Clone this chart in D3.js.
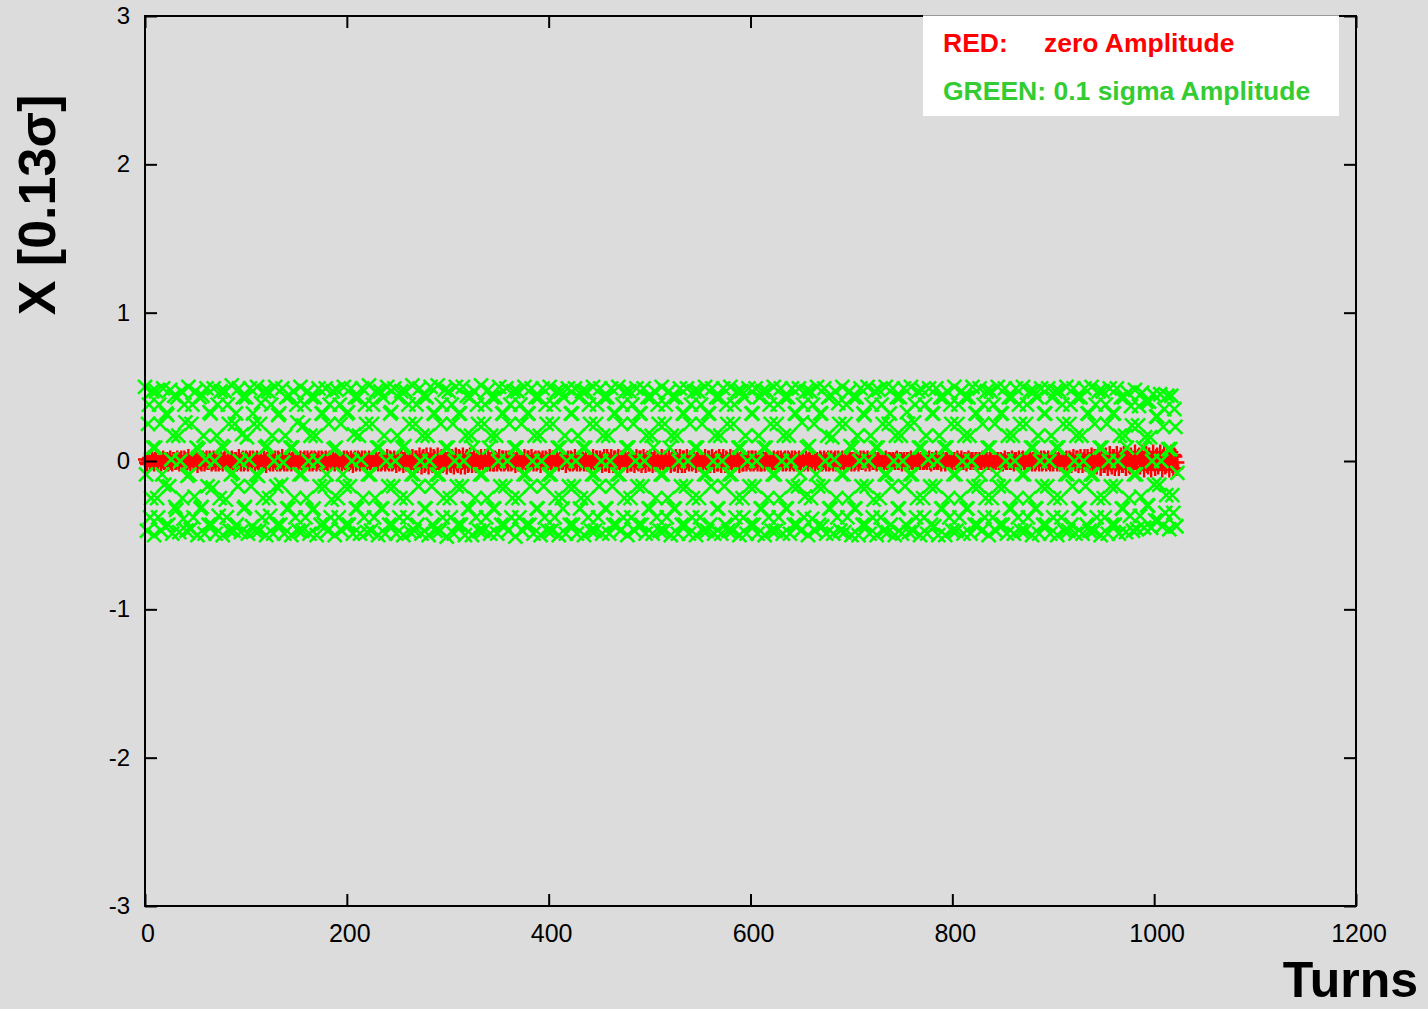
<!DOCTYPE html>
<html><head><meta charset="utf-8">
<script src="https://cdn.jsdelivr.net/npm/d3@7"></script>
<style>html,body{margin:0;padding:0;background:#dcdcdc;}svg{display:block;}</style>
</head><body>
<svg id="c" width="1428" height="1009"></svg>
<script>
const xTicks=[0,200,400,600,800,1000,1200];
const yTicks=[-3,-2,-1,0,1,2,3];
const xTitle="Turns";
const yTitle="X [0.13σ]";
const legendRed=["RED:","zero Amplitude"];
const legendGreen=["GREEN: 0.1 sigma Amplitude"];
// green: 0.1 sigma amplitude, one value per turn (turn = index)
const greenX=[
.5,-.09,-.47,.25,.38,-.38,-.25,.47,.09,-.5,.09,.47,-.25,-.38,.38,.25,-.47,-.09,
.49,-.16,-.44,.32,.31,-.43,-.17,.48,.01,-.49,.17,.44,-.31,-.33,.43,.17,-.48,0,
.47,-.25,-.39,.38,.26,-.47,-.1,.5,-.09,-.46,.25,.38,-.38,-.24,.47,.09,-.5,.08,
.43,-.32,-.31,.44,.17,-.49,.01,.49,-.17,-.43,.33,.32,-.43,-.18,.49,0,-.49,.17,
.38,-.37,-.25,.47,.1,-.5,.09,.47,-.26,-.38,.38,.25,-.47,-.09,.51,-.08,-.47,.25,
.32,-.43,-.17,.49,0,-.48,.18,.43,-.32,-.31,.43,.16,-.49,.01,.49,-.17,-.44,.32,
.25,-.47,-.09,.5,-.1,-.47,.25,.39,-.38,-.25,.47,.09,-.5,.1,.47,-.25,-.37,.38,
.17,-.49,0,.5,-.17,-.43,.31,.32,-.43,-.16,.49,-.01,-.49,.17,.43,-.32,-.32,.44,
.09,-.5,.09,.47,-.25,-.38,.38,.26,-.47,-.09,.5,-.09,-.47,.24,.38,-.38,-.25,.47,
0,-.49,.17,.43,-.33,-.32,.43,.17,-.5,0,.49,-.17,-.43,.32,.32,-.42,-.17,.49,
-.09,-.47,.25,.38,-.38,-.26,.47,.08,-.5,.09,.48,-.25,-.38,.38,.25,-.47,-.09,.5,
-.17,-.43,.32,.33,-.43,-.17,.49,0,-.49,.18,.43,-.32,-.32,.43,.17,-.49,.01,.49,
-.25,-.38,.38,.25,-.48,-.09,.51,-.09,-.47,.25,.38,-.38,-.25,.47,.09,-.5,.09,.47,
-.32,-.32,.43,.17,-.49,0,.5,-.17,-.43,.32,.33,-.43,-.17,.49,0,-.49,.17,.43,
-.38,-.25,.47,.09,-.5,.1,.47,-.25,-.38,.38,.25,-.48,-.09,.51,-.09,-.47,.25,.38,
-.43,-.17,.49,0,-.49,.17,.44,-.32,-.32,.43,.17,-.5,0,.5,-.17,-.43,.32,.32,
-.47,-.09,.51,-.09,-.47,.25,.38,-.38,-.25,.48,.09,-.51,.09,.47,-.25,-.38,.38,.25,
-.49,0,.5,-.17,-.43,.32,.32,-.43,-.17,.5,0,-.5,.17,.44,-.32,-.32,.43,.17,
-.5,.09,.47,-.25,-.38,.38,.25,-.47,-.09,.51,-.09,-.47,.25,.38,-.38,-.25,.48,.09,
-.49,.17,.43,-.32,-.32,.43,.17,-.49,0,.5,-.17,-.43,.32,.32,-.43,-.17,.49,0,
-.47,.25,.38,-.38,-.25,.47,.09,-.51,.09,.47,-.25,-.38,.38,.25,-.47,-.09,.5,-.09,
-.43,.32,.32,-.43,-.17,.49,0,-.49,.17,.43,-.32,-.32,.43,.17,-.5,0,.49,-.17,
-.38,.38,.25,-.47,-.09,.5,-.09,-.47,.25,.38,-.38,-.25,.47,.09,-.5,.09,.47,-.25,
-.32,.43,.17,-.49,0,.49,-.17,-.43,.32,.32,-.43,-.17,.49,0,-.49,.17,.43,-.32,
-.25,.47,.09,-.5,.09,.47,-.25,-.38,.38,.25,-.47,-.09,.5,-.09,-.47,.25,.38,-.38,
-.17,.49,0,-.49,.17,.43,-.32,-.32,.43,.17,-.49,0,.49,-.17,-.43,.32,.32,-.43,
-.09,.5,-.09,-.47,.25,.38,-.38,-.25,.47,.09,-.5,.09,.47,-.25,-.38,.38,.25,-.47,
0,.49,-.17,-.43,.32,.32,-.43,-.17,.49,0,-.49,.17,.43,-.32,-.32,.43,.17,-.49,
.09,.47,-.25,-.38,.38,.25,-.47,-.09,.5,-.09,-.47,.25,.38,-.38,-.25,.47,.09,-.5,
.17,.43,-.32,-.32,.43,.17,-.49,0,.49,-.17,-.43,.32,.32,-.43,-.17,.49,0,-.49,
.25,.38,-.38,-.25,.47,.09,-.5,.09,.47,-.25,-.38,.38,.25,-.47,-.09,.5,-.09,-.47,
.32,.32,-.43,-.17,.49,0,-.49,.17,.43,-.32,-.32,.43,.17,-.49,0,.49,-.17,-.43,
.38,.25,-.47,-.09,.5,-.09,-.47,.25,.38,-.38,-.25,.47,.09,-.5,.09,.47,-.25,-.38,
.43,.17,-.49,0,.49,-.17,-.43,.32,.32,-.43,-.17,.49,0,-.49,.17,.43,-.32,-.32,
.47,.09,-.5,.09,.47,-.25,-.38,.38,.25,-.47,-.09,.5,-.09,-.47,.25,.38,-.38,-.25,
.49,0,-.49,.17,.43,-.32,-.32,.43,.17,-.49,0,.49,-.17,-.43,.32,.32,-.43,-.17,
.49,-.08,-.47,.26,.38,-.38,-.24,.47,.09,-.5,.1,.47,-.25,-.39,.38,.25,-.47,-.09,
.5,-.17,-.43,.32,.32,-.44,-.17,.49,0,-.49,.17,.43,-.32,-.32,.44,.16,-.49,.01,
.47,-.25,-.38,.39,.25,-.47,-.09,.5,-.09,-.48,.25,.38,-.38,-.25,.47,.1,-.5,.09,
.43,-.32,-.32,.43,.17,-.5,0,.49,-.17,-.43,.32,.31,-.43,-.17,.5,0,-.49,.17,
.38,-.38,-.26,.47,.09,-.5,.09,.48,-.25,-.38,.38,.25,-.47,-.09,.5,-.09,-.48,.25,
.32,-.43,-.17,.49,0,-.5,.17,.43,-.32,-.32,.43,.17,-.49,0,.49,-.17,-.43,.33,
.25,-.48,-.09,.5,-.09,-.47,.26,.38,-.38,-.25,.47,.09,-.5,.09,.48,-.25,-.38,.38,
.17,-.49,.01,.49,-.17,-.43,.32,.32,-.44,-.17,.49,0,-.5,.17,.43,-.32,-.32,.43,
.09,-.5,.09,.47,-.25,-.38,.38,.25,-.47,-.09,.5,-.09,-.47,.25,.38,-.38,-.25,.47,
0,-.49,.17,.43,-.32,-.32,.43,.17,-.49,0,.5,-.17,-.43,.32,.32,-.43,-.17,.49,
-.09,-.47,.25,.38,-.38,-.25,.47,.09,-.5,.09,.47,-.25,-.38,.38,.25,-.47,-.09,.5,
-.17,-.43,.32,.32,-.43,-.17,.49,0,-.49,.17,.43,-.32,-.32,.43,.17,-.49,0,.49,
-.25,-.38,.38,.25,-.47,-.09,.5,-.09,-.47,.25,.38,-.38,-.25,.47,.09,-.5,.09,.47,
-.32,-.32,.43,.17,-.49,0,.49,-.17,-.43,.32,.32,-.43,-.17,.49,0,-.49,.17,.43,
-.38,-.25,.47,.09,-.5,.09,.47,-.25,-.38,.38,.25,-.47,-.09,.5,-.09,-.47,.25,.38,
-.43,-.17,.49,0,-.49,.17,.43,-.32,-.32,.43,.17,-.49,0,.49,-.17,-.43,.32,.32,
-.47,-.09,.5,-.09,-.47,.25,.38,-.38,-.25,.47,.09,-.5,.09,.47,-.25,-.38,.38,.25,
-.49,0,.49,-.17,-.43,.32,.32,-.43,-.17,.49,0,-.49,.17,.43,-.32,-.32,.43,.17,
-.48,.09,.46,-.25,-.37,.37,.24,-.47,-.09,.48,-.09,-.46,.24,.37,-.37,-.24,.46,.09,
-.45,.16,.4,-.3,-.3,.4,.16,-.45,0,.45,-.16,-.4,.3,.3,-.4,-.16,.45,0,
-.44,.23,.35,-.35,-.23,.44,.08,-.46,.08,.44,-.23,-.35,.35,.23,-.44,-.08
];
// red: zero amplitude, one value per turn (turn = index)
const redX=[
.01,-.01,-.02,.01,.02,-.01,-.01,.02,0,-.02,.01,.02,-.01,-.02,.01,.01,-.02,0,
.02,-.01,-.01,.01,.01,-.02,0,.02,-.01,-.02,.01,.01,-.01,-.01,.02,0,-.02,.01,
.02,-.02,-.01,.02,.01,-.02,-.01,.03,0,-.02,.01,.02,-.02,-.01,.02,.01,-.03,0,
.01,-.01,-.02,.02,.01,-.02,0,.02,-.01,-.01,.02,.01,-.02,-.01,.02,0,-.02,.01,
.02,-.02,-.01,.02,0,-.02,.01,.02,-.01,-.02,.02,.01,-.02,0,.02,-.01,-.02,.01,
.01,-.02,-.01,.03,0,-.02,.01,.02,-.02,-.01,.02,.01,-.02,0,.02,-.01,-.02,.02,
.01,-.02,0,.02,-.01,-.02,.01,.02,-.02,-.01,.02,0,-.03,.01,.02,-.01,-.02,.02,
.01,-.02,0,.02,-.01,-.02,.02,.01,-.02,-.01,.03,0,-.02,.01,.02,-.02,-.01,.02,
0,-.02,.01,.02,-.01,-.02,.02,.01,-.02,0,.02,-.01,-.02,.01,.02,-.02,-.01,.02,
0,-.02,.01,.02,-.02,-.01,.02,.01,-.02,0,.02,-.01,-.02,.02,.01,-.02,-.01,.02,
-.01,-.02,.01,.02,-.02,-.01,.03,0,-.02,.01,.02,-.01,-.02,.02,.01,-.02,0,.02,
-.01,-.02,.02,.01,-.02,-.01,.02,0,-.03,.01,.02,-.02,-.01,.02,.01,-.02,0,.02,
-.01,-.02,.02,.01,-.02,0,.02,-.01,-.02,.01,.02,-.02,-.01,.03,0,-.02,.01,.02,
-.02,-.01,.02,.01,-.02,0,.03,-.01,-.02,.02,.01,-.02,-.01,.02,0,-.03,.01,.02,
-.02,-.01,.03,.01,-.03,.01,.02,-.02,-.02,.02,.01,-.03,-.01,.03,-.01,-.02,.02,.02,
-.03,-.01,.04,0,-.04,.02,.03,-.03,-.02,.04,.01,-.04,0,.04,-.02,-.03,.03,.02,
-.04,-.01,.04,-.01,-.04,.02,.03,-.03,-.02,.04,.01,-.04,.01,.03,-.02,-.03,.03,.02,
-.04,0,.04,-.02,-.03,.03,.02,-.04,-.01,.04,0,-.04,.02,.03,-.03,-.02,.04,.01,
-.03,.01,.03,-.02,-.03,.02,.02,-.03,-.01,.03,0,-.03,.01,.03,-.02,-.02,.03,.01,
-.02,.01,.02,-.02,-.02,.02,.01,-.02,0,.03,-.01,-.02,.02,.02,-.02,-.01,.02,0,
-.02,.02,.02,-.02,-.01,.02,0,-.03,.01,.02,-.02,-.02,.02,.01,-.02,0,.03,-.01,
-.02,.02,.02,-.02,-.01,.03,0,-.02,.01,.02,-.02,-.01,.02,.01,-.03,0,.02,-.01,
-.02,.02,.01,-.02,0,.03,-.01,-.02,.02,.02,-.02,-.01,.02,0,-.02,.01,.02,-.01,
-.01,.02,.01,-.03,0,.02,-.01,-.02,.02,.01,-.02,-.01,.03,0,-.02,.01,.02,-.02,
-.01,.03,.01,-.02,0,.02,-.02,-.02,.02,.01,-.03,0,.03,-.01,-.02,.02,.02,-.02,
-.01,.02,0,-.03,.01,.03,-.02,-.02,.03,.01,-.03,0,.03,-.01,-.03,.02,.02,-.03,
0,.03,-.01,-.03,.02,.02,-.02,-.01,.03,0,-.03,.01,.03,-.02,-.02,.02,.01,-.03,
0,.03,-.01,-.02,.02,.02,-.03,-.01,.03,0,-.03,.01,.02,-.02,-.02,.03,.01,-.03,
.01,.03,-.02,-.02,.02,.01,-.03,0,.03,-.01,-.02,.02,.02,-.02,-.01,.03,0,-.03,
.01,.02,-.02,-.02,.03,.01,-.03,0,.03,-.01,-.03,.02,.02,-.03,-.01,.03,0,-.02,
.02,.02,-.02,-.01,.03,0,-.03,.01,.03,-.02,-.02,.02,.01,-.03,0,.03,-.01,-.02,
.02,.02,-.03,-.01,.03,0,-.03,.01,.02,-.02,-.02,.03,.01,-.03,0,.03,-.01,-.03,
.02,.01,-.03,0,.03,-.01,-.03,.02,.02,-.02,-.01,.03,0,-.03,.01,.03,-.02,-.02,
.02,.01,-.02,0,.02,-.01,-.02,.02,.02,-.02,-.01,.02,0,-.02,.01,.02,-.02,-.02,
.02,.01,-.02,.01,.02,-.01,-.02,.02,.01,-.02,-.01,.02,-.01,-.02,.01,.02,-.02,-.01,
.02,0,-.02,.01,.02,-.02,-.01,.02,.01,-.02,0,.02,-.01,-.02,.02,.01,-.02,-.01,
.02,-.01,-.02,.01,.02,-.02,-.01,.02,0,-.02,.01,.02,-.01,-.02,.02,.01,-.02,0,
.01,-.01,-.02,.02,.01,-.02,-.01,.02,0,-.02,.01,.02,-.02,-.01,.02,0,-.02,.01,
.02,-.02,-.01,.02,.01,-.02,0,.02,-.01,-.02,.02,.01,-.02,-.01,.02,.01,-.02,.01,
.01,-.02,-.01,.02,.01,-.02,0,.02,-.01,-.01,.02,.01,-.02,0,.02,0,-.02,.01,
.01,-.01,-.01,.02,0,-.02,.01,.01,-.01,-.01,.02,.01,-.02,0,.02,-.01,-.01,.01,
.01,-.02,0,.01,0,-.01,.01,.02,-.01,-.01,.01,.01,-.02,0,.01,-.01,-.02,.01,
.01,-.01,0,.02,-.01,-.01,.01,.01,-.02,0,.02,0,-.01,.01,.01,-.01,-.01,.02,
0,-.01,.01,.02,-.01,-.02,.01,.01,-.01,0,.02,-.01,-.01,.01,.01,-.02,0,.01,
0,-.02,.01,.01,-.01,-.01,.02,0,-.02,.01,.01,-.01,-.01,.02,0,-.01,0,.02,
-.01,-.01,.01,.01,-.02,0,.02,0,-.01,.01,.01,-.01,-.01,.01,.01,-.02,0,.01,
-.01,-.01,.02,.01,-.01,0,.01,-.01,-.01,.01,.02,-.02,-.01,.02,0,-.01,.01,.01,
-.01,-.01,.01,0,-.02,0,.02,-.01,-.01,.01,.01,-.01,-.01,.02,0,-.02,.01,.01,
-.01,-.01,.02,0,-.02,.01,.02,-.01,-.02,.01,.01,-.02,0,.02,0,-.02,.01,.01,
-.02,-.01,.02,.01,-.02,.01,.02,-.02,-.01,.02,.01,-.02,0,.02,-.01,-.02,.01,.02,
-.02,0,.02,0,-.02,.01,.02,-.02,-.01,.02,.01,-.02,.01,.02,-.02,-.01,.02,.01,
-.03,0,.03,-.01,-.02,.02,.02,-.03,-.01,.03,0,-.03,.01,.03,-.02,-.02,.03,.01,
-.04,.01,.04,-.02,-.04,.03,.03,-.04,-.01,.05,0,-.05,.02,.04,-.03,-.03,.04,.01,
-.05,.01,.05,-.02,-.04,.03,.03,-.05,-.02,.05,0,-.05,.02,.04,-.03,-.03,.05,.02,
-.05,.02,.05,-.03,-.04,.04,.02,-.05,-.01,.06,-.01,-.05,.03,.04,-.04,-.02,.06,.01,
-.06,.02,.05,-.03,-.04,.04,.02,-.06,0,.06,-.02,-.05,.03,.04,-.04,-.02,.06,0,
-.06,.03,.05,-.04,-.03,.05,.01,-.06,.01,.06,-.03,-.05,.04,.03,-.05,-.01
];

const W=1428,H=1009;
const svg=d3.select("#c");
const x=d3.scaleLinear().domain([0,1200]).range([145,1356]);
const y=d3.scaleLinear().domain([-3,3]).range([906,16]);
const FONT="'Liberation Sans', Arial, Helvetica, sans-serif";

svg.append("rect").attr("width",W).attr("height",H).attr("fill","#dcdcdc");

// red '+' markers
svg.append("g").selectAll("path").data(redX).join("path")
  .attr("transform",(d,i)=>`translate(${x(i)},${y(d)})`)
  .attr("d","M-7,0H7M0,-7.5V7.5")
  .attr("stroke","#ff0000").attr("stroke-width",2.4).attr("fill","none");

// green 'x' markers
svg.append("g").selectAll("path").data(greenX).join("path")
  .attr("transform",(d,i)=>`translate(${x(i)},${y(d)})`)
  .attr("d","M-7,-7L7,7M-7,7L7,-7")
  .attr("stroke","#00ff00").attr("stroke-width",2.6).attr("fill","none");

// axes with mirrored inward ticks
const tl=12;
const axB=d3.axisBottom(x).tickValues(xTicks).tickSize(-tl).tickFormat("");
const axT=d3.axisTop(x).tickValues(xTicks).tickSize(-tl).tickFormat("");
const axL=d3.axisLeft(y).tickValues(yTicks).tickSize(-tl).tickFormat("");
const axR=d3.axisRight(y).tickValues(yTicks).tickSize(-tl).tickFormat("");
function styleAx(g){g.selectAll("path.domain").remove();g.selectAll("line").attr("stroke","#000").attr("stroke-width",2);}
svg.append("g").attr("transform","translate(0,906)").call(axB).call(styleAx);
svg.append("g").attr("transform","translate(0,16)").call(axT).call(styleAx);
svg.append("g").attr("transform","translate(145,0)").call(axL).call(styleAx);
svg.append("g").attr("transform","translate(1356,0)").call(axR).call(styleAx);
svg.append("rect").attr("x",145).attr("y",16).attr("width",1211).attr("height",890)
  .attr("fill","none").attr("stroke","#000").attr("stroke-width",2);

// tick labels
svg.append("g").selectAll("text").data(xTicks).join("text")
  .attr("x",d=>x(d)+3).attr("y",942).attr("text-anchor","middle")
  .attr("font-family",FONT).attr("font-size",25).attr("fill","#000").text(d=>d);
svg.append("g").selectAll("text").data(yTicks).join("text")
  .attr("x",130).attr("y",d=>y(d)+8).attr("text-anchor","end")
  .attr("font-family",FONT).attr("font-size",24).attr("fill","#000").text(d=>d);

// legend
svg.append("rect").attr("x",923).attr("y",15).attr("width",416).attr("height",101)
  .attr("fill","#fff");
svg.append("line").attr("x1",923).attr("x2",1339).attr("y1",15.5).attr("y2",15.5)
  .attr("stroke","#999").attr("stroke-width",1);
svg.append("text").attr("x",943).attr("y",52).attr("font-family",FONT).attr("font-weight","bold")
  .attr("font-size",26.5).attr("fill","#ff0000").text(legendRed[0]);
svg.append("text").attr("x",1044).attr("y",52).attr("font-family",FONT).attr("font-weight","bold")
  .attr("font-size",26.5).attr("fill","#ff0000").text(legendRed[1]);
svg.append("text").attr("x",943).attr("y",100).attr("font-family",FONT).attr("font-weight","bold")
  .attr("font-size",26.5).attr("fill","#33cc33").text(legendGreen[0]);

// axis titles
svg.append("text").attr("transform","translate(55,205) rotate(-90)").attr("text-anchor","middle")
  .attr("font-family",FONT).attr("font-weight","bold").attr("font-size",52).attr("fill","#000").text(yTitle);
svg.append("text").attr("x",1418).attr("y",997).attr("text-anchor","end")
  .attr("font-family",FONT).attr("font-weight","bold").attr("font-size",50).attr("fill","#000").text(xTitle);
</script>
</body></html>
